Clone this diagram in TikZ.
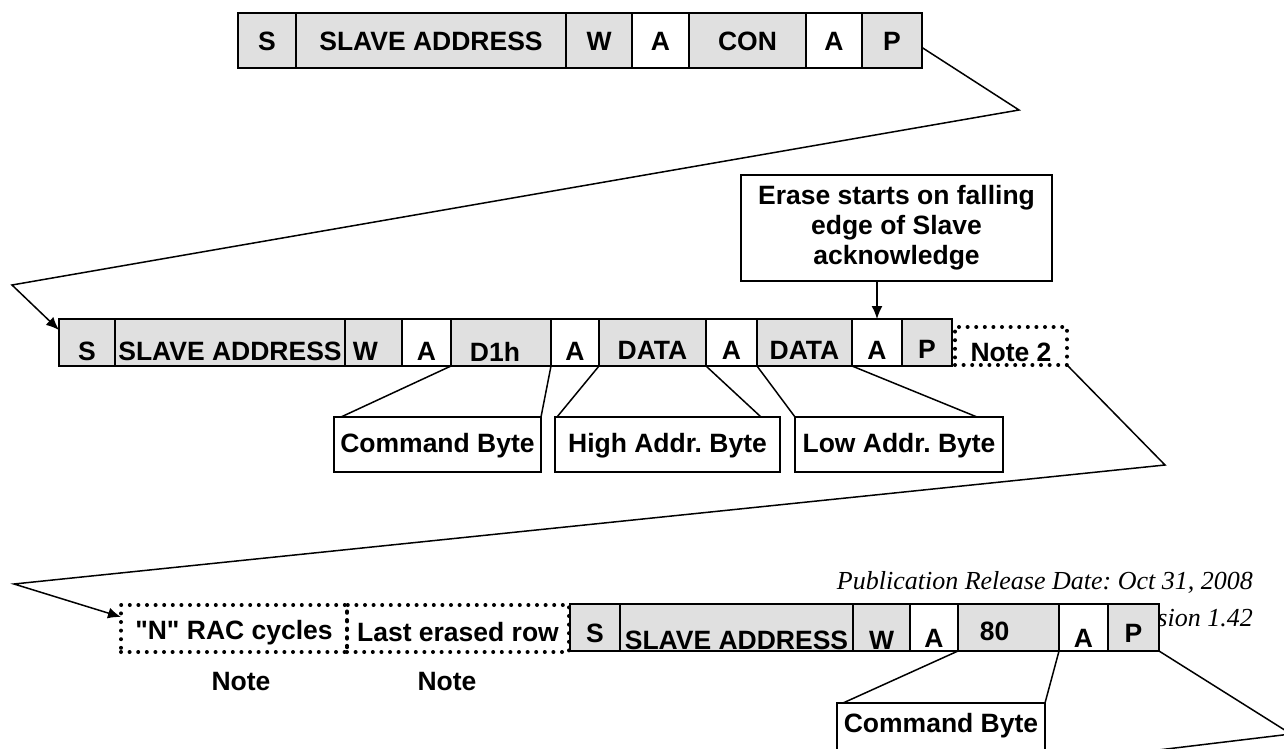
\documentclass[tikz,border=0pt]{standalone}
\usepackage{fontspec}
\setmainfont{Liberation Sans}
\newfontfamily\diagfont{Liberation Sans}
\newfontfamily\tnr{Liberation Serif}
\usetikzlibrary{arrows.meta}
\definecolor{cellgray}{RGB}{224,224,224}
\frenchspacing
\tikzset{
  cellg/.style={draw, line width=1.5pt, fill=cellgray, inner sep=0pt, outer sep=0pt, anchor=north west},
  cellw/.style={cellg, fill=white},
  dotbox/.style={draw, line width=4pt, dash pattern=on 0pt off 8.6pt, line cap=round, inner sep=0pt, outer sep=0pt, anchor=north west},
  lblbox/.style={draw, line width=1.5pt, fill=white, inner sep=0pt, outer sep=0pt, anchor=north west},
  lbl/.style={font=\fontsize{26.5}{30}\diagfont\bfseries\selectfont, inner sep=0pt},
  conn/.style={line width=1.5pt},
  arr/.style={line width=1.5pt, -{Latex[length=13pt,width=11pt]}},
  pub/.style={font=\fontsize{26}{30}\tnr\itshape\selectfont, inner sep=0pt, anchor=east},
}
% name, style, x1, x2, y1, y2, text, dx, dy
\newcommand\mkcell[9]{%
  \node[#2, minimum width={(#4)-(#3)}, minimum height={(#6)-(#5)}] (#1) at (#3,#5) {};
  \node[lbl] (#1t) at ([xshift=#8pt,yshift=-#9pt]#1.center) {#7};
}
\begin{document}
\begin{tikzpicture}[x=1pt,y=-1pt]
\clip (0,0) rectangle (1284,749);
\fill[white] (0,0) rectangle (1284,749);

% publication text (partly covered by the cells)
\node[pub] (pubdate) at (1253,582) {Publication Release Date: Oct 31, 2008};
\node[pub] (pubrev) at (1253,618) {Revision 1.42};

% top row
\mkcell{t1}{cellg}{238}{296}{13}{68}{S}{0}{1}
\mkcell{t2}{cellg}{296}{566}{13}{68}{SLAVE ADDRESS}{0}{1}
\mkcell{t3}{cellg}{566}{632}{13}{68}{W}{0}{1}
\mkcell{t4}{cellw}{632}{689}{13}{68}{A}{0}{1}
\mkcell{t5}{cellg}{689}{806}{13}{68}{CON}{0}{1}
\mkcell{t6}{cellw}{806}{862}{13}{68}{A}{0}{1}
\mkcell{t7}{cellg}{862}{922}{13}{68}{P}{0}{1}

% middle row
\mkcell{m1}{cellg}{59}{115}{319}{366}{S}{0}{9}
\mkcell{m2}{cellg}{115}{345}{319}{366}{SLAVE ADDRESS}{0}{9}
\mkcell{m3}{cellg}{345}{402}{319}{366}{W}{-8}{9}
\mkcell{m4}{cellw}{402}{451}{319}{366}{A}{0}{9}
\mkcell{m5}{cellg}{451}{551}{319}{366}{D1h}{-6}{9}
\mkcell{m6}{cellw}{551}{599}{319}{366}{A}{0}{9}
\mkcell{m7}{cellg}{599}{706}{319}{366}{DATA}{0}{8}
\mkcell{m8}{cellw}{706}{757}{319}{366}{A}{0}{8}
\mkcell{m9}{cellg}{757}{852}{319}{366}{DATA}{0}{8}
\mkcell{m10}{cellw}{852}{902}{319}{366}{A}{0}{8}
\mkcell{m11}{cellg}{902}{952}{319}{366}{P}{0}{7}
\mkcell{n2}{dotbox}{955}{1067}{327}{365}{Note 2}{0}{6}

% callout
\node[lblbox, anchor=center, minimum width=311, minimum height=106, align=center,
      font=\fontsize{26.5}{30}\diagfont\bfseries\selectfont] (callout) at (896.5,228)
  {Erase starts on falling\\edge of Slave\\acknowledge};
\draw[arr] (callout.south -| m10.north) -- (m10.north);

% middle labels
\mkcell{cb1}{lblbox}{334}{541}{417}{472}{Command Byte}{0}{1}
\mkcell{ha}{lblbox}{555}{780}{417}{472}{High Addr. Byte}{0}{1}
\mkcell{la}{lblbox}{795}{1003}{417}{472}{Low Addr. Byte}{0}{1}
\draw[conn] (m5.south west) -- ([xshift=7pt]cb1.north west);
\draw[conn] (m6.south west) -- (cb1.north east);
\draw[conn] (m7.south west) -- ([xshift=2pt]ha.north west);
\draw[conn] (m8.south west) -- ([xshift=-19pt]ha.north east);
\draw[conn] (m9.south west) -- (la.north west);
\draw[conn] (m10.south west) -- ([xshift=-26pt]la.north east);

% bottom row
\mkcell{d1}{dotbox}{121}{347}{605}{652}{"N" RAC cycles}{0}{4}
\mkcell{d2}{dotbox}{347}{569}{605}{652}{Last erased row}{0}{4}
\mkcell{b1}{cellg}{570}{620}{604}{651}{S}{0}{6}
\mkcell{b2}{cellg}{620}{853}{604}{651}{SLAVE ADDRESS}{0}{13}
\mkcell{b3}{cellg}{853}{910}{604}{651}{W}{0}{13}
\mkcell{b4}{cellw}{910}{958}{604}{651}{A}{0}{11}
\mkcell{b5}{cellg}{958}{1059}{604}{651}{80}{-14}{4}
\mkcell{b6}{cellw}{1059}{1108}{604}{651}{A}{0}{11}
\mkcell{b7}{cellg}{1108}{1159}{604}{651}{P}{0}{6}
\node[lbl] (note1) at (241,682) {Note};
\node[lbl] (note2) at (447,682) {Note};

\mkcell{cb2}{lblbox}{837}{1045}{703}{773}{Command Byte}{0}{-12}
\draw[conn] (b5.south west) -- ([xshift=6pt]cb2.north west);
\draw[conn] (b6.south west) -- (cb2.north east);

% wrap connectors
\coordinate (v1) at (1019,110);
\coordinate (v2) at (12,285);
\coordinate (v3) at (1165,465);
\coordinate (v4) at (14,584);
\coordinate (v5) at (1291,734);
\coordinate (v6) at (1100,757);
\draw[arr] ([yshift=-7pt]t7.east) -- (v1) -- (v2) -- ([yshift=-11pt]m1.north west);
\draw[arr] (n2.south east) -- (v3) -- (v4) -- ([yshift=-12pt]d1.north west);
\draw[conn] (b7.south east) -- (v5) -- (v6);
\end{tikzpicture}
\end{document}
